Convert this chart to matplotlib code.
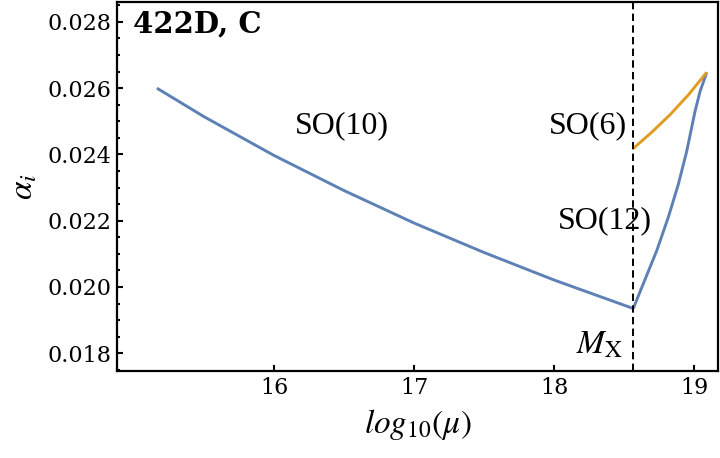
import matplotlib
matplotlib.use("Agg")
import matplotlib.pyplot as plt
from matplotlib.ticker import MultipleLocator, FixedLocator, FormatStrFormatter

plt.rcParams['font.family'] = ['Liberation Serif', 'DejaVu Serif']
plt.rcParams['mathtext.fontset'] = 'stix'

# values
mu_so10 = [15.164, 15.5, 16.0, 16.5, 17.0, 17.5, 18.0, 18.566]
alpha_so10 = [0.02600, 0.02514, 0.02397, 0.02291, 0.02193, 0.02104, 0.02021, 0.01935]

mu_so12 = [18.566, 18.638, 18.734, 18.816, 18.888, 18.948, 19.007, 19.043, 19.091]
alpha_so12 = [0.01935, 0.0201, 0.0211, 0.0221, 0.0231, 0.0241, 0.0253, 0.0259, 0.02648]

mu_so6 = [18.566, 18.698, 18.829, 18.96, 19.091]
alpha_so6 = [0.02418, 0.02467, 0.02520, 0.02580, 0.02648]

m_x = 18.566
x_ticks = [16, 17, 18, 19]

blue = '#5e81b5'
orange = '#e19c24'

fig = plt.figure(figsize=(7.2, 4.58), dpi=100)
ax = fig.add_axes([0.1625, 0.189, 0.8345, 0.8066])

ax.plot(mu_so10, alpha_so10, color=blue, lw=2.1, solid_capstyle='butt')
ax.plot(mu_so12, alpha_so12, color=blue, lw=2.1, solid_capstyle='butt')
ax.plot(mu_so6, alpha_so6, color=orange, lw=2.1, solid_capstyle='butt')
ax.axvline(m_x, color='black', lw=1.4, ls=(0, (3.8, 2.2)))

ax.set_xlim(14.879, 19.17)
ax.set_ylim(0.01745, 0.0286)

ax.xaxis.set_major_locator(FixedLocator(x_ticks))
ax.yaxis.set_major_locator(MultipleLocator(0.002))
ax.yaxis.set_minor_locator(MultipleLocator(0.0005))
ax.yaxis.set_major_formatter(FormatStrFormatter('%.3f'))
ax.tick_params(which='both', direction='in', width=1.5, pad=4)
ax.tick_params(which='major', length=4)
ax.tick_params(which='minor', length=2.5)
for lab in ax.get_xticklabels() + ax.get_yticklabels():
    lab.set_family('DejaVu Serif')
    lab.set_fontsize(16)
for s in ax.spines.values():
    s.set_linewidth(1.6)

ax.text(0.0266, 0.919, '422D, C', transform=ax.transAxes, fontsize=21,
        fontweight='bold', family='DejaVu Serif', va='baseline', ha='left')
ax.text(16.486, 0.02465, 'SO(10)', fontsize=23, ha='center', va='baseline')
ax.text(18.519, 0.02465, 'SO(6)', fontsize=23, ha='right', va='baseline')
ax.text(18.361, 0.02176, 'SO(12)', fontsize=23, ha='center', va='baseline')
ax.text(18.493, 0.01798, r'$M_{\mathrm{X}}$', fontsize=24, ha='right', va='baseline')

ax.set_xlabel(r'$log_{\mathit{10}}(\mu)$', fontsize=24, labelpad=6)
ax.set_ylabel(r'$\alpha_i$', fontsize=24, labelpad=6)

fig.savefig('out.png', dpi=100)
